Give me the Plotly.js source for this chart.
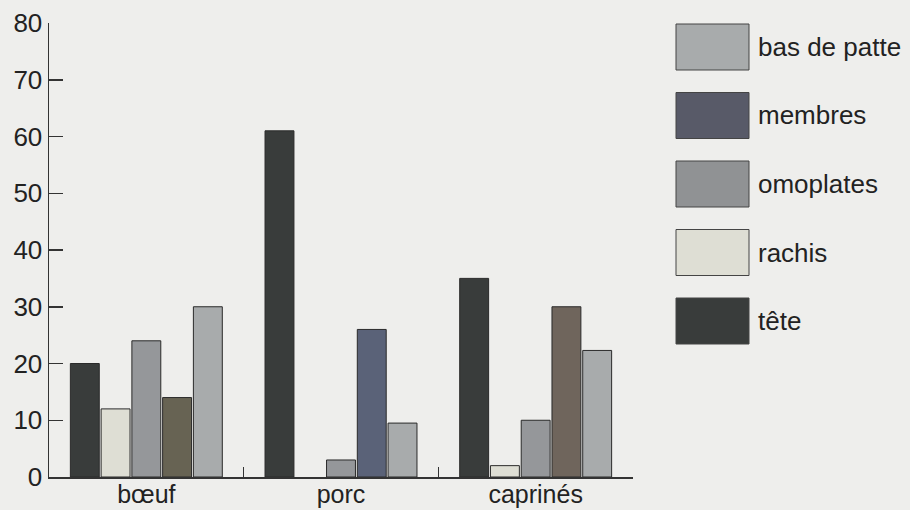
<!DOCTYPE html>
<html>
<head>
<meta charset="utf-8">
<script src="https://cdn.plot.ly/plotly-3.0.1.min.js"></script>
<style>
  html, body { margin: 0; padding: 0; background: #eeeeec; }
  #chart { width: 910px; height: 510px; }
</style>
</head>
<body>
<div id="chart"></div>
<script>
// ---- data ----
const categories = ['bœuf', 'porc', 'caprinés'];
const seriesNames = ['tête', 'rachis', 'omoplates', 'membres', 'bas de patte'];
const tete = [20, 61, 35];
const rachis = [12, null, 2];
const omoplates = [24, 3, 10];
const membres = [14, 26, 30];
const basDePatte = [30, 9.5, 22.3];
const yTicks = [0, 10, 20, 30, 40, 50, 60, 70, 80];

// ---- styles ----
const seriesValues = [tete, rachis, omoplates, membres, basDePatte];
const seriesColors = [
  '#393c3b',
  '#deded4',
  '#95979a',
  ['#676353', '#5a6278', '#6f655c'],
  '#a8abac'
];
const legendColors = ['#393c3b', '#deded4', '#909294', '#585a68', '#a8abac'];
const FONT = "'Liberation Sans', Arial, Helvetica, sans-serif";

const L = 49, R = 633, T = 23, B = 477;
const W = 910, H = 510;
const px2x = p => (p - L) / (R - L);
const px2y = p => (B - p) / (B - T);

const traces = seriesNames.map((name, i) => ({
  type: 'bar',
  name: name,
  x: categories,
  y: seriesValues[i],
  marker: { color: seriesColors[i], line: { color: '#2a2a2a', width: 1 } },
  hoverinfo: 'x+y+name',
  showlegend: false
}));

// custom legend (large swatches, top item = last series)
const shapes = [];
const annotations = [];
const legendTop = 24, legendStep = 68.5, boxH = 46;
for (let k = 0; k < seriesNames.length; k++) {
  const i = seriesNames.length - 1 - k;
  const top = legendTop + k * legendStep;
  shapes.push({
    type: 'rect', xref: 'paper', yref: 'paper',
    x0: px2x(676), x1: px2x(749),
    y0: px2y(top + boxH), y1: px2y(top),
    fillcolor: legendColors[i],
    line: { color: '#444', width: 1 }
  });
  annotations.push({
    xref: 'paper', yref: 'paper',
    x: px2x(756), y: px2y(top + boxH / 2),
    xanchor: 'left', yanchor: 'middle',
    text: seriesNames[i], showarrow: false,
    font: { family: FONT, size: 26, color: '#222' }
  });
}

const layout = {
  width: W, height: H,
  margin: { l: L, r: W - R, t: T, b: H - B, pad: 0 },
  paper_bgcolor: '#eeeeec',
  plot_bgcolor: '#eeeeec',
  barmode: 'group',
  bargap: 0.21,
  bargroupgap: 0.06,
  showlegend: false,
  font: { family: FONT, color: '#222' },
  xaxis: {
    type: 'category',
    range: [-0.5, 2.5],
    showline: true, linecolor: '#333', linewidth: 1.5,
    ticks: 'inside', tickson: 'boundaries', ticklen: 10, tickcolor: '#333', tickwidth: 1.5,
    showgrid: false, zeroline: false,
    tickfont: { family: FONT, size: 25, color: '#222' },
    ticklabelstandoff: -6,
    automargin: false,
    fixedrange: true
  },
  yaxis: {
    range: [0, 80],
    tickmode: 'array', tickvals: yTicks, ticktext: yTicks.map(String),
    showline: true, linecolor: '#333', linewidth: 1.5,
    ticks: 'inside', ticklen: 14, tickcolor: '#333', tickwidth: 1.5,
    showgrid: false, zeroline: false,
    tickfont: { family: FONT, size: 26, color: '#222' },
    ticklabelstandoff: 0,
    automargin: false,
    fixedrange: true
  },
  shapes: shapes,
  annotations: annotations
};

Plotly.newPlot('chart', traces, layout, { displayModeBar: false, staticPlot: true });
</script>
</body>
</html>
